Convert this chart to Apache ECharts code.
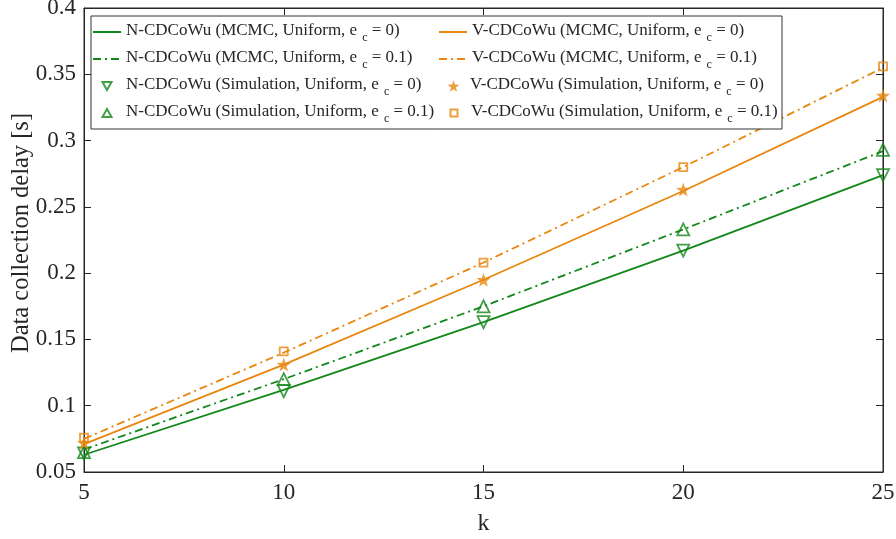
<!DOCTYPE html>
<html>
<head>
<meta charset="utf-8">
<script src="https://cdn.jsdelivr.net/npm/echarts@6/dist/echarts.min.js"></script>
<style>html,body{margin:0;padding:0;background:#fff;}#c{width:896px;height:539px;}</style>
</head>
<body>
<div id="c"></div>
<script>
// ---- data ----
var kValues = [5, 10, 15, 20, 25];
var nMcmc0  = [0.063, 0.112, 0.163, 0.217, 0.274];
var nMcmc01 = [0.067, 0.120, 0.175, 0.233, 0.292];
var vMcmc0  = [0.071, 0.131, 0.195, 0.262, 0.333];
var vMcmc01 = [0.075, 0.140, 0.208, 0.280, 0.355];
var nSim0   = [0.064, 0.111, 0.163, 0.217, 0.274];
var nSim01  = [0.065, 0.120, 0.175, 0.233, 0.293];
var vSim0   = [0.072, 0.131, 0.195, 0.263, 0.334];
var vSim01  = [0.076, 0.141, 0.208, 0.280, 0.356];
var xTicks = [5, 10, 15, 20, 25];
var yTicks = [0.05, 0.1, 0.15, 0.2, 0.25, 0.3, 0.35, 0.4];
var names = [
  'N-CDCoWu (MCMC, Uniform, e_c = 0)',
  'N-CDCoWu (MCMC, Uniform, e_c = 0.1)',
  'N-CDCoWu (Simulation, Uniform, e_c = 0)',
  'N-CDCoWu (Simulation, Uniform, e_c = 0.1)',
  'V-CDCoWu (MCMC, Uniform, e_c = 0)',
  'V-CDCoWu (MCMC, Uniform, e_c = 0.1)',
  'V-CDCoWu (Simulation, Uniform, e_c = 0)',
  'V-CDCoWu (Simulation, Uniform, e_c = 0.1)'
];

// ---- styles ----
var GREEN = '#11871a';
var ORANGE = '#e8860e';
var FONT = '"Liberation Serif", "Times New Roman", serif';
var AXIS = '#262626';
var TXT = '#262626';
var DASHDOT = [8, 4, 2, 4];
var STAR = 'path://M0,-10L2.35,-3.24L9.51,-3.09L3.8,1.24L5.88,8.09L0,4L-5.88,8.09L-3.8,1.24L-9.51,-3.09L-2.35,-3.24Z';
var DOWNTRI = 'path://M-5,-4.33L5,-4.33L0,4.33Z';
var UPTRI = 'path://M-5,4.33L5,4.33L0,-4.33Z';
var SQUARE = 'path://M0,0L10,0L10,10L0,10Z';

function pairs(vals) { return kValues.map(function (k, i) { return [k, vals[i]]; }); }

function lineSeries(name, vals, color, type) {
  return { name: name, type: 'line', data: pairs(vals), symbol: 'none', smooth: false,
    lineStyle: { color: color, width: 1.8, type: type }, itemStyle: { color: color }, z: 2 };
}
function scatterSeries(name, vals, color, symbol, size, filled) {
  return { name: name, type: 'scatter', data: pairs(vals), symbol: symbol, symbolSize: size,
    itemStyle: { color: filled ? color : 'rgba(255,255,255,0)', borderColor: color, borderWidth: filled ? 0 : 1.8 }, z: 3 };
}

function legendRich(pad) {
  return {
    f: { fontSize: 17, fontFamily: FONT, color: TXT, lineHeight: 20, verticalAlign: 'top', padding: [0, 0, 0, pad] },
    t: { fontSize: 17, fontFamily: FONT, color: TXT, lineHeight: 20, verticalAlign: 'top' },
    s: { fontSize: 12, fontFamily: FONT, color: TXT, lineHeight: 12, verticalAlign: 'top', padding: [10, 0, 0, 5] }
  };
}
function legendFmt(n) { return '{f|' + n.replace('e_c', 'e}{s|c}{t|') + '}'; }
// one legend per row: [name index, left, row centre, icon size, isLine, text pad]
var legendRows = [
  [0, 92, 29, 13, true, 0], [1, 92, 56, 13, true, 0],
  [2, 101.5, 83, 9, false, 9.5], [3, 101.5, 110, 9, false, 9.5],
  [4, 438, 29, 13, true, 0], [5, 438, 56, 13, true, 0],
  [6, 447.5, 83, 12, false, 5.5], [7, 449.5, 110, 7, false, 8.5]
];
function makeLegend(r) {
  var n = names[r[0]];
  return { orient: 'vertical', left: r[1], top: r[2] - 7, padding: 0,
    itemWidth: r[4] ? 28 : r[3], itemHeight: r[3],
    data: [r[4] ? { name: n, itemStyle: { opacity: 0 } } : { name: n }],
    formatter: legendFmt, textStyle: { rich: legendRich(r[5]), fontFamily: FONT, fontSize: 17 },
    selectedMode: false, z: 5 };
}

var chart = echarts.init(document.getElementById('c'), null, { renderer: 'canvas' });
var fmtY = function (v) { return String(parseFloat(v.toFixed(2))); };
chart.setOption({
  animation: false,
  backgroundColor: '#ffffff',
  grid: { left: 84, right: 13, top: 8, bottom: 67, show: true, borderColor: AXIS, borderWidth: 1,
    backgroundColor: 'transparent', containLabel: false, outerBoundsMode: 'none' },
  xAxis: [
    { type: 'value', min: xTicks[0], max: xTicks[xTicks.length - 1], interval: 5, position: 'bottom',
      name: 'k', nameLocation: 'middle', nameGap: 40, nameMoveOverlap: false,
      nameTextStyle: { fontFamily: FONT, fontSize: 24, color: TXT },
      axisLine: { show: true, onZero: false, lineStyle: { color: AXIS } },
      axisTick: { show: true, inside: true, length: 7, lineStyle: { color: AXIS } },
      axisLabel: { fontFamily: FONT, fontSize: 23, color: TXT, margin: 9 },
      splitLine: { show: false } },
    { type: 'value', min: xTicks[0], max: xTicks[xTicks.length - 1], interval: 5, position: 'top',
      axisLine: { show: true, onZero: false, lineStyle: { color: AXIS } },
      axisTick: { show: true, inside: true, length: 7, lineStyle: { color: AXIS } },
      axisLabel: { show: false }, splitLine: { show: false } }
  ],
  yAxis: [
    { type: 'value', min: yTicks[0], max: yTicks[yTicks.length - 1], interval: 0.05, position: 'left',
      name: 'Data collection delay [s]', nameLocation: 'middle', nameGap: 50, nameMoveOverlap: false,
      nameTextStyle: { fontFamily: FONT, fontSize: 24.5, color: TXT, padding: [0, 0, 0, 14] },
      axisLine: { show: true, onZero: false, lineStyle: { color: AXIS } },
      axisTick: { show: true, inside: true, length: 7, lineStyle: { color: AXIS } },
      axisLabel: { fontFamily: FONT, fontSize: 23, color: TXT, margin: 8, formatter: fmtY },
      splitLine: { show: false } },
    { type: 'value', min: yTicks[0], max: yTicks[yTicks.length - 1], interval: 0.05, position: 'right',
      axisLine: { show: true, onZero: false, lineStyle: { color: AXIS } },
      axisTick: { show: true, inside: true, length: 7, lineStyle: { color: AXIS } },
      axisLabel: { show: false }, splitLine: { show: false } }
  ],
  legend: legendRows.map(makeLegend),
  graphic: [
    { type: 'rect', z: 4, shape: { x: 91, y: 16, width: 691, height: 113 },
      style: { fill: '#ffffff', stroke: '#333333', lineWidth: 1 } }
  ],
  series: [
    lineSeries(names[0], nMcmc0, GREEN, 'solid'),
    lineSeries(names[1], nMcmc01, GREEN, DASHDOT),
    lineSeries(names[4], vMcmc0, ORANGE, 'solid'),
    lineSeries(names[5], vMcmc01, ORANGE, DASHDOT),
    scatterSeries(names[2], nSim0, GREEN, DOWNTRI, 12, false),
    scatterSeries(names[3], nSim01, GREEN, UPTRI, 12, false),
    scatterSeries(names[6], vSim0, ORANGE, STAR, 14, true),
    scatterSeries(names[7], vSim01, ORANGE, SQUARE, 8, false)
  ]
});
</script>
</body>
</html>
